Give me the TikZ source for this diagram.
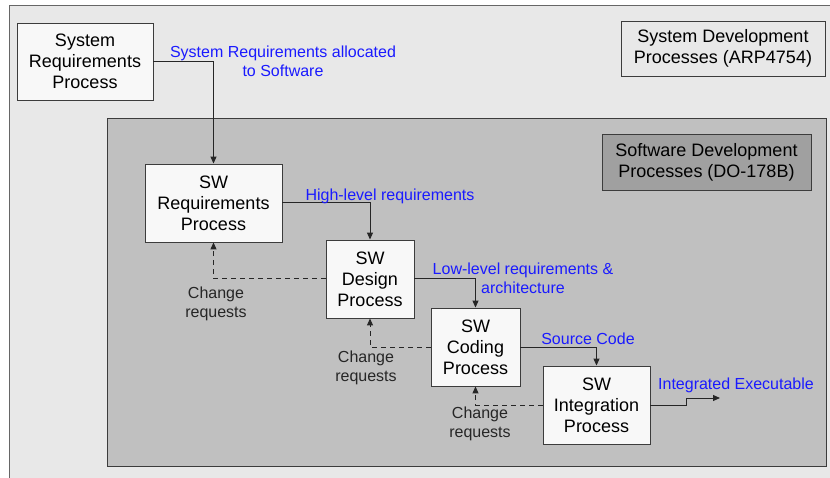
\documentclass[tikz,border=0pt]{standalone}
\usepackage{fontspec}
\setmainfont{Liberation Sans}
\usepackage{xcolor}
\usepackage{tikz}
\usetikzlibrary{arrows.meta}
\definecolor{sysBack}{HTML}{E8E8E8}
\definecolor{swBack}{HTML}{C0C0C0}
\definecolor{boxPaper}{HTML}{F8F8F8}
\definecolor{boxLine}{HTML}{3C3C3C}
\definecolor{tagDark}{HTML}{A0A0A0}
\definecolor{flowBlue}{HTML}{1A1AFF}

\tikzset{
  procbox/.style={draw=boxLine,line width=0.9pt,fill=boxPaper,align=center,
    font=\fontsize{18}{21}\selectfont,inner sep=0pt},
  tagbox/.style={draw=boxLine,line width=0.9pt,align=center,
    font=\fontsize{18}{21}\selectfont,inner sep=0pt},
  flowlabel/.style={text=flowBlue,align=center,font=\fontsize{16}{19}\selectfont,inner sep=0pt},
  changelabel/.style={text=black!85,align=center,font=\fontsize{16}{19}\selectfont,inner sep=0pt},
  flow/.style={line width=1pt,draw=black!85,-{Triangle[length=7pt,width=6pt]}},
  change/.style={flow,dashed,dash pattern=on 5pt off 4pt}
}

\begin{document}
\begin{tikzpicture}[x=1pt,y=-1pt]
  \useasboundingbox (0,0) rectangle (830,478);
  % system level frame
  \fill[sysBack] (9,6) rectangle (830,478);
  \draw[black!60,line width=1pt] (9,478) -- (9,6) -- (830,6);
  % software level frame
  \filldraw[fill=swBack,draw=boxLine,line width=1pt] (107,119) rectangle (826,466);

  \node[tagbox,fill=sysBack,minimum width=204pt,minimum height=55pt] (arp) at (723,48.5) {System Development\\Processes (ARP4754)};
  \node[tagbox,fill=tagDark,minimum width=209pt,minimum height=56pt] (do) at (706.5,162) {Software Development\\Processes (DO-178B)};

  \node[procbox,minimum width=136pt,minimum height=77pt] (sysreq) at (85,61.5) {System\\Requirements\\Process};
  \node[procbox,minimum width=137pt,minimum height=78pt] (swreq) at (213.5,203) {SW\\Requirements\\Process};
  \node[procbox,minimum width=88pt,minimum height=78pt] (design) at (370,279) {SW\\Design\\Process};
  \node[procbox,minimum width=89pt,minimum height=78pt] (coding) at (475.5,347) {SW\\Coding\\Process};
  \node[procbox,minimum width=107pt,minimum height=78pt] (integ) at (596.5,405) {SW\\Integration\\Process};
  \coordinate (exe) at (720,398);

  \draw[flow] (sysreq.east) -| (swreq.north);
  \draw[flow] (swreq.east) -| (design.north);
  \draw[flow] (design.east) -| (coding.north);
  \draw[flow] (coding.east) -| (integ.north);
  \draw[flow] (integ.east) -- ++(36,0) |- (exe);

  \draw[change] (design.west) -| (swreq.south);
  \draw[change] (coding.west) -| (design.south);
  \draw[change] (integ.west) -| (coding.south);

  \node[flowlabel] (lsys) at (283,61) {System Requirements allocated\\to Software};
  \node[flowlabel] (lhigh) at (390,196) {High-level requirements};
  \node[flowlabel] (llow) at (523,278) {Low-level requirements \&\\architecture};
  \node[flowlabel] (lsrc) at (588,339) {Source Code};
  \node[flowlabel] (lexe) at (736,385) {Integrated Executable};

  \node[changelabel] (cr1) at (216,304) {Change\\requests};
  \node[changelabel] (cr2) at (366,368) {Change\\requests};
  \node[changelabel] (cr3) at (480,424) {Change\\requests};
\end{tikzpicture}
\end{document}
